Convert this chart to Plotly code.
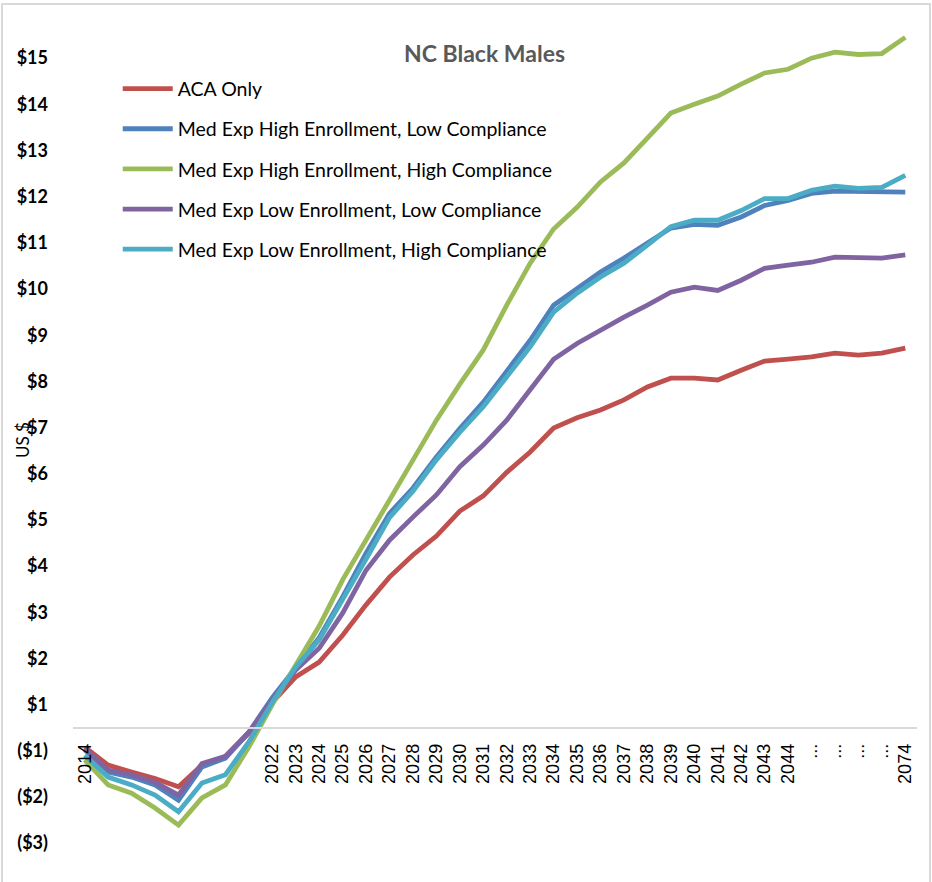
import plotly.graph_objects as go

# Projection periods (four gap columns stand for the years between 2044 and 2074)
periods = [str(y) for y in range(2014, 2045)] + ["gap1", "gap2", "gap3", "gap4", "2074"]
period_labels = (["2014"] + [""] * 7 + [str(y) for y in range(2022, 2045)]
                 + ["...", "...", "...", "...", "2074"])

aca_only = [-0.42, -0.81, -0.96, -1.10, -1.28, -0.81, -0.63, -0.12, 0.55, 1.10,
            1.42, 2.00, 2.66, 3.26, 3.74, 4.15, 4.69, 5.02, 5.53, 5.97,
            6.49, 6.71, 6.88, 7.10, 7.38, 7.57, 7.57, 7.53, 7.74, 7.94,
            7.98, 8.03, 8.11, 8.07, 8.11, 8.22]
hi_enr_lo_comp = [-0.48, -0.96, -1.07, -1.24, -1.57, -0.85, -0.66, -0.10, 0.65, 1.29,
                  1.95, 2.83, 3.78, 4.64, 5.19, 5.86, 6.48, 7.05, 7.70, 8.39,
                  9.15, 9.52, 9.87, 10.17, 10.50, 10.82, 10.90, 10.88, 11.06, 11.31,
                  11.42, 11.57, 11.62, 11.62, 11.62, 11.60]
hi_enr_hi_comp = [-0.70, -1.24, -1.42, -1.74, -2.11, -1.52, -1.24, -0.42, 0.50, 1.36,
                  2.20, 3.20, 4.06, 4.97, 5.80, 6.66, 7.44, 8.18, 9.15, 10.06,
                  10.80, 11.27, 11.82, 12.23, 12.77, 13.31, 13.50, 13.68, 13.94, 14.18,
                  14.26, 14.50, 14.63, 14.58, 14.60, 14.95]
lo_enr_lo_comp = [-0.46, -0.92, -1.02, -1.18, -1.46, -0.78, -0.62, -0.10, 0.60, 1.25,
                  1.72, 2.48, 3.41, 4.06, 4.56, 5.04, 5.65, 6.12, 6.66, 7.31,
                  7.98, 8.32, 8.61, 8.89, 9.15, 9.43, 9.54, 9.47, 9.69, 9.95,
                  10.02, 10.08, 10.19, 10.17, 10.17, 10.24]
lo_enr_hi_comp = [-0.60, -1.07, -1.24, -1.46, -1.82, -1.20, -1.02, -0.31, 0.55, 1.31,
                  1.90, 2.75, 3.65, 4.55, 5.12, 5.80, 6.40, 6.95, 7.60, 8.25,
                  9.00, 9.41, 9.76, 10.06, 10.45, 10.85, 10.99, 10.99, 11.20, 11.46,
                  11.46, 11.64, 11.73, 11.68, 11.70, 11.96]

series_names = ["ACA Only",
                "Med Exp High Enrollment, Low Compliance",
                "Med Exp High Enrollment, High Compliance",
                "Med Exp Low Enrollment, Low Compliance",
                "Med Exp Low Enrollment, High Compliance"]
series_values = [aca_only, hi_enr_lo_comp, hi_enr_hi_comp, lo_enr_lo_comp, lo_enr_hi_comp]
series_colors = ["#C0504D", "#4F81BD", "#9BBB59", "#8064A2", "#4BACC6"]

# Value-axis ticks sit at half-dollar marks; labels are whole dollars, rounded away from zero
ytick_vals = [-2.5, -1.5, -0.5] + [v + 0.5 for v in range(0, 15)]
ytick_text = ["($3)", "($2)", "($1)"] + ["$%d" % (v + 1) for v in range(0, 15)]

x_idx = list(range(len(periods)))

fig = go.Figure()
for name, vals, col in zip(series_names, series_values, series_colors):
    fig.add_trace(go.Scatter(
        x=x_idx, y=vals, name=name, mode="lines",
        line=dict(color=col, width=4.8),
        legendgroup=name,
    ))

y_min, y_max = -3.343, 15.5
zero_pos = (0 - y_min) / (y_max - y_min)

fig.update_layout(
    width=932, height=882,
    margin=dict(l=73, r=15, t=12, b=0),
    paper_bgcolor="white", plot_bgcolor="white",
    showlegend=True,
    legend=dict(
        x=0.053, y=0.934, xanchor="left", yanchor="top",
        font=dict(family="Lato, 'Open Sans', sans-serif", size=19.5, color="#000000"),
        bgcolor="rgba(0,0,0,0)", tracegroupgap=11.8, itemwidth=50,
    ),
    xaxis=dict(
        range=[-0.5, len(periods) - 0.5],
        tickvals=x_idx, ticktext=period_labels, tickangle=-90,
        tickfont=dict(family="'Liberation Sans', Arial, sans-serif", size=18, color="#000000"),
        anchor="free", position=zero_pos,
        showline=True, linecolor="#D9D9D9", linewidth=2,
        showgrid=False, zeroline=False, ticks="", ticklabelstandoff=8,
        automargin=False,
    ),
    yaxis=dict(
        range=[y_min, y_max],
        tickvals=ytick_vals, ticktext=ytick_text,
        tickfont=dict(family="Lato, 'Open Sans', sans-serif", size=18, color="#000000", weight="bold"),
        showline=False, showgrid=False, zeroline=False, ticks="",
        ticklabelstandoff=24, automargin=False,
    ),
    annotations=[
        dict(text="<b>NC Black Males</b>", xref="paper", yref="paper",
             x=(484 - 73) / 844, y=(882 - 53) / 870, xanchor="center", yanchor="middle",
             showarrow=False,
             font=dict(family="Lato, 'Open Sans', sans-serif", size=23, color="#595959")),
        dict(text="US $", xref="paper", yref="paper",
             x=(22 - 73) / 844, y=(882 - 440) / 870, xanchor="center", yanchor="middle",
             textangle=-90, showarrow=False,
             font=dict(family="Lato, 'Open Sans', sans-serif", size=17, color="#000000")),
    ],
    shapes=[
        dict(type="rect", xref="paper", yref="paper",
             x0=(2 - 73) / 844, x1=(930 - 73) / 844, y0=-0.02, y1=(882 - 4) / 870,
             line=dict(color="#D9D9D9", width=2), fillcolor="rgba(0,0,0,0)", layer="below"),
    ],
)

fig.write_html("out.html")
